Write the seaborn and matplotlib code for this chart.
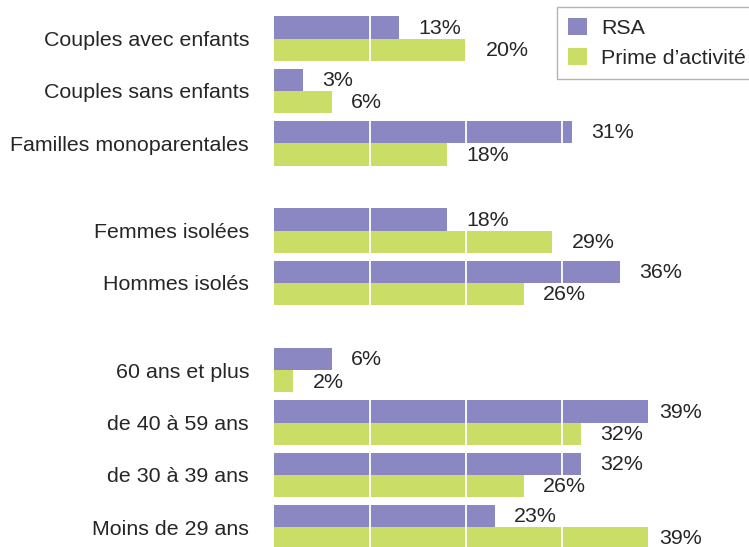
import numpy as np
import pandas as pd
import matplotlib
matplotlib.use("Agg")
import matplotlib.pyplot as plt
import seaborn as sns

# ---- data ----
categories = ["Couples avec enfants", "Couples sans enfants", "Familles monoparentales",
              "Femmes isolées", "Hommes isolés",
              "60 ans et plus", "de 40 à 59 ans", "de 30 à 39 ans", "Moins de 29 ans"]
groups = [0, 0, 0, 1, 1, 2, 2, 2, 2]
rsa = [13, 3, 31, 18, 36, 6, 39, 32, 23]
prime = [20, 6, 18, 29, 26, 2, 32, 26, 39]
series = ["RSA", "Prime d\u2019activité"]

# ---- style ----
sns.set_style("white")
plt.rcParams["font.family"] = ["Liberation Sans", "DejaVu Sans"]
FS = 15.4
TXT = "#262626"
colors = ["#8b87c2", "#cadd66"]
GAP = 0.67

pos = [i + g * GAP for i, g in enumerate(groups)]
df = pd.DataFrame({
    "pos": pos * 2,
    "value": rsa + prime,
    "series": [series[0]] * len(rsa) + [series[1]] * len(prime),
})

fig = plt.figure(figsize=(7.49, 5.47), dpi=100)
ax = fig.add_axes([274 / 749, 0, 475 / 749, 1])

sns.barplot(data=df, x="value", y="pos", hue="series", hue_order=series,
            orient="h", native_scale=True, palette=colors, saturation=1,
            width=0.85, dodge=True, linewidth=0, ax=ax)

ax.set_xlim(0, 475 / 9.6)
ax.set_ylim(9.72, -0.74)
ax.set_yticks(pos)
ax.set_yticklabels(categories, fontsize=FS, color=TXT)
ax.tick_params(axis="y", length=0, pad=18)
ax.set_xticks([10, 20, 30, 40])
ax.tick_params(axis="x", length=0, labelbottom=False)
ax.set_xlabel("")
ax.set_ylabel("")
for s in ax.spines.values():
    s.set_visible(False)
ax.set_axisbelow(False)
ax.grid(axis="x", color="white", linewidth=1.3)
ax.grid(axis="y", visible=False)

# value labels
for cont in ax.containers:
    for bar in cont:
        w = bar.get_width()
        yc = bar.get_y() + bar.get_height() / 2
        off = 14 if w < 38 else 7.5
        ax.annotate(f"{w:.0f}%", (w, yc), xytext=(off, -0.5), textcoords="offset points",
                    ha="left", va="center", fontsize=FS, color=TXT)

handles, labels = ax.get_legend_handles_labels()
if ax.get_legend() is not None:
    ax.get_legend().remove()
leg = fig.legend(handles, labels, loc="upper left",
                 bbox_to_anchor=(557 / 749, 1 - 7 / 547), bbox_transform=fig.transFigure,
                 fontsize=FS, frameon=True, fancybox=False, borderaxespad=0,
                 handlelength=0.9, handleheight=0.9, handletextpad=0.65,
                 borderpad=0.5, labelspacing=0.45)
leg.get_frame().set_edgecolor("#a0a0a0")
leg.get_frame().set_linewidth(1.0)
for t in leg.get_texts():
    t.set_color(TXT)

fig.savefig("out.png", dpi=100)
